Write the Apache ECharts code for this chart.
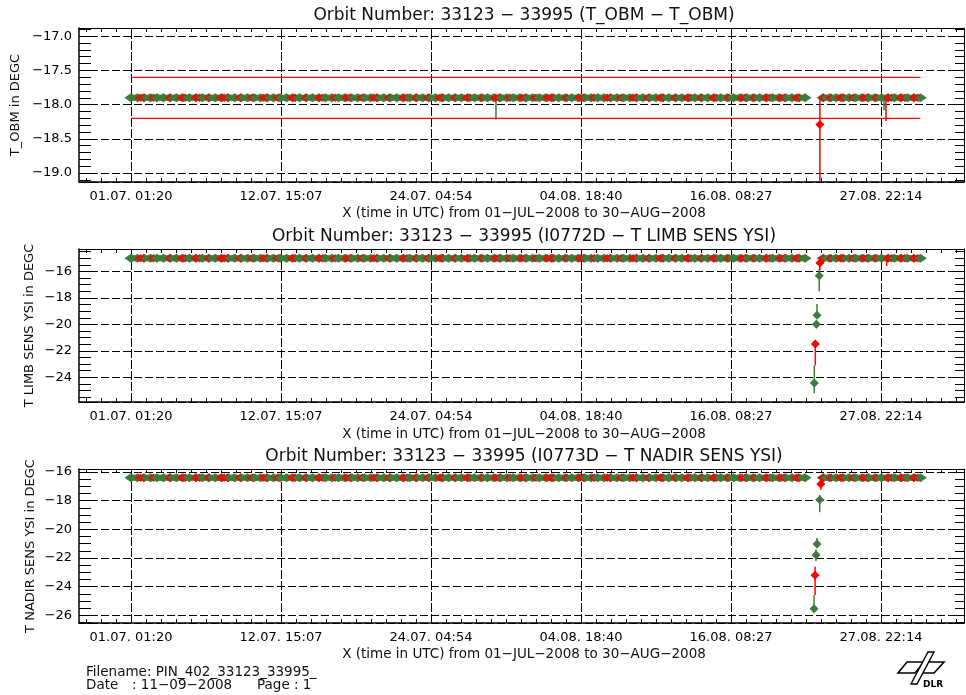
<!DOCTYPE html>
<html><head><meta charset="utf-8">
<script src="https://cdn.jsdelivr.net/npm/echarts@6/dist/echarts.min.js"></script>
<style>html,body{margin:0;padding:0;background:#fff}#c{width:966px;height:695px}</style>
</head><body><div id="c"></div>
<script>
// ---------------- data (time = days since 01.07.2008 01:20 UTC) ----------------
const tickLabels = ["01.07. 01:20","12.07. 15:07","24.07. 04:54","04.08. 18:40","16.08. 08:27","27.08. 22:14"];
const tickTimes = [0, 11.5743, 23.1486, 34.7229, 46.2972, 57.8715];

// orbit samples; 52.7 marks the data gap
const bandTimes = [0,0.5,1,1.5,2,2.5,3,3.5,4,4.5,5,5.5,6,6.5,7,
7.5,8,8.5,9,9.5,10,10.5,11,11.5,12,12.5,13,13.5,14,14.5,
15,15.5,16,16.5,17,17.5,18,18.5,19,19.5,20,20.5,21,21.5,22,
22.5,23,23.5,24,24.5,25,25.5,26,26.5,27,27.5,28,28.5,29,29.5,
30,30.5,31,31.5,32,32.5,33,33.5,34,34.5,35,35.5,36,36.5,37,
37.5,38,38.5,39,39.5,40,40.5,41,41.5,42,42.5,43,43.5,44,44.5,
45,45.5,46,46.5,47,47.5,48,48.5,49,49.5,50,50.5,51,51.5,52,
52.7,
53.4,53.9,54.4,54.9,55.4,55.9,56.4,56.9,57.4,57.9,58.4,58.9,59.4,59.9,60.4,60.9];

const obmBand = [
-17.9,-17.9,-17.9,-17.9,-17.9,-17.9,-17.9,-17.9,-17.9,-17.9,-17.9,-17.9,-17.9,-17.9,-17.9,
-17.9,-17.9,-17.9,-17.9,-17.9,-17.9,-17.9,-17.9,-17.9,-17.9,-17.9,-17.9,-17.9,-17.9,-17.9,
-17.9,-17.9,-17.9,-17.9,-17.9,-17.9,-17.9,-17.9,-17.9,-17.9,-17.9,-17.9,-17.9,-17.9,-17.9,
-17.9,-17.9,-17.9,-17.9,-17.9,-17.9,-17.9,-17.9,-17.9,-17.9,-17.9,-17.9,-17.9,-17.9,-17.9,
-17.9,-17.9,-17.9,-17.9,-17.9,-17.9,-17.9,-17.9,-17.9,-17.9,-17.9,-17.9,-17.9,-17.9,-17.9,
-17.9,-17.9,-17.9,-17.9,-17.9,-17.9,-17.9,-17.9,-17.9,-17.9,-17.9,-17.9,-17.9,-17.9,-17.9,
-17.9,-17.9,-17.9,-17.9,-17.9,-17.9,-17.9,-17.9,-17.9,-17.9,-17.9,-17.9,-17.9,-17.9,-17.9,
'-',
-17.9,-17.9,-17.9,-17.9,-17.9,-17.9,-17.9,-17.9,-17.9,-17.9,-17.9,-17.9,-17.9,-17.9,-17.9,-17.9];

const limbBand = [
-15.0,-15.0,-15.0,-15.0,-15.0,-15.0,-15.0,-15.0,-15.0,-15.0,-15.0,-15.0,-15.0,-15.0,-15.0,
-15.0,-15.0,-15.0,-15.0,-15.0,-15.0,-15.0,-15.0,-15.0,-15.0,-15.0,-15.0,-15.0,-15.0,-15.0,
-15.0,-15.0,-15.0,-15.0,-15.0,-15.0,-15.0,-15.0,-15.0,-15.0,-15.0,-15.0,-15.0,-15.0,-15.0,
-15.0,-15.0,-15.0,-15.0,-15.0,-15.0,-15.0,-15.0,-15.0,-15.0,-15.0,-15.0,-15.0,-15.0,-15.0,
-15.0,-15.0,-15.0,-15.0,-15.0,-15.0,-15.0,-15.0,-15.0,-15.0,-15.0,-15.0,-15.0,-15.0,-15.0,
-15.0,-15.0,-15.0,-15.0,-15.0,-15.0,-15.0,-15.0,-15.0,-15.0,-15.0,-15.0,-15.0,-15.0,-15.0,
-15.0,-15.0,-15.0,-15.0,-15.0,-15.0,-15.0,-15.0,-15.0,-15.0,-15.0,-15.0,-15.0,-15.0,-15.0,
'-',
-15.0,-15.0,-15.0,-15.0,-15.0,-15.0,-15.0,-15.0,-15.0,-15.0,-15.0,-15.0,-15.0,-15.0,-15.0,-15.0];

const nadirBand = [
-16.4,-16.4,-16.4,-16.4,-16.4,-16.4,-16.4,-16.4,-16.4,-16.4,-16.4,-16.4,-16.4,-16.4,-16.4,
-16.4,-16.4,-16.4,-16.4,-16.4,-16.4,-16.4,-16.4,-16.4,-16.4,-16.4,-16.4,-16.4,-16.4,-16.4,
-16.4,-16.4,-16.4,-16.4,-16.4,-16.4,-16.4,-16.4,-16.4,-16.4,-16.4,-16.4,-16.4,-16.4,-16.4,
-16.4,-16.4,-16.4,-16.4,-16.4,-16.4,-16.4,-16.4,-16.4,-16.4,-16.4,-16.4,-16.4,-16.4,-16.4,
-16.4,-16.4,-16.4,-16.4,-16.4,-16.4,-16.4,-16.4,-16.4,-16.4,-16.4,-16.4,-16.4,-16.4,-16.4,
-16.4,-16.4,-16.4,-16.4,-16.4,-16.4,-16.4,-16.4,-16.4,-16.4,-16.4,-16.4,-16.4,-16.4,-16.4,
-16.4,-16.4,-16.4,-16.4,-16.4,-16.4,-16.4,-16.4,-16.4,-16.4,-16.4,-16.4,-16.4,-16.4,-16.4,
'-',
-16.4,-16.4,-16.4,-16.4,-16.4,-16.4,-16.4,-16.4,-16.4,-16.4,-16.4,-16.4,-16.4,-16.4,-16.4,-16.4];

const flagTimes = [0.6,0.85,1.6,2.9,3.8,4.05,4.9,5.15,5.9,6.8,
7.05,7.3,8.3,9.2,10.1,10.35,11.2,12.3,12.55,13.4,
14.4,14.65,15.6,16.5,16.75,17.7,18.6,18.85,19.8,20.9,
21.15,21.9,22.8,23.7,23.95,24.9,25.8,26.05,27.0,28.0,
28.25,29.1,30.0,30.25,31.1,32.0,32.25,32.5,33.5,34.5,
34.75,35.6,36.6,36.85,37.7,38.6,38.85,39.8,40.7,40.95,
41.9,42.8,43.05,43.9,44.8,45.05,46.0,47.0,47.25,48.0,
48.9,49.15,50.0,50.25,51.2,51.45,53.3,53.9,54.6,54.85,
55.6,56.4,56.65,57.4,58.3,58.55,59.3,59.55,60.3,60.55];

const obmFlag = [
-17.9,-17.9,-17.9,-17.9,-17.9,-17.9,-17.9,-17.9,-17.9,-17.9,
-17.9,-17.9,-17.9,-17.9,-17.9,-17.9,-17.9,-17.9,-17.9,-17.9,
-17.9,-17.9,-17.9,-17.9,-17.9,-17.9,-17.9,-17.9,-17.9,-17.9,
-17.9,-17.9,-17.9,-17.9,-17.9,-17.9,-17.9,-17.9,-17.9,-17.9,
-17.9,-17.9,-17.9,-17.9,-17.9,-17.9,-17.9,-17.9,-17.9,-17.9,
-17.9,-17.9,-17.9,-17.9,-17.9,-17.9,-17.9,-17.9,-17.9,-17.9,
-17.9,-17.9,-17.9,-17.9,-17.9,-17.9,-17.9,-17.9,-17.9,-17.9,
-17.9,-17.9,-17.9,-17.9,-17.9,-17.9,-17.9,-17.9,-17.9,-17.9,
-17.9,-17.9,-17.9,-17.9,-17.9,-17.9,-17.9,-17.9,-17.9,-17.9];

const limbFlag = [
-15.0,-15.0,-15.0,-15.0,-15.0,-15.0,-15.0,-15.0,-15.0,-15.0,
-15.0,-15.0,-15.0,-15.0,-15.0,-15.0,-15.0,-15.0,-15.0,-15.0,
-15.0,-15.0,-15.0,-15.0,-15.0,-15.0,-15.0,-15.0,-15.0,-15.0,
-15.0,-15.0,-15.0,-15.0,-15.0,-15.0,-15.0,-15.0,-15.0,-15.0,
-15.0,-15.0,-15.0,-15.0,-15.0,-15.0,-15.0,-15.0,-15.0,-15.0,
-15.0,-15.0,-15.0,-15.0,-15.0,-15.0,-15.0,-15.0,-15.0,-15.0,
-15.0,-15.0,-15.0,-15.0,-15.0,-15.0,-15.0,-15.0,-15.0,-15.0,
-15.0,-15.0,-15.0,-15.0,-15.0,-15.0,-15.0,-15.0,-15.0,-15.0,
-15.0,-15.0,-15.0,-15.0,-15.0,-15.0,-15.0,-15.0,-15.0,-15.0];

const nadirFlag = [
-16.4,-16.4,-16.4,-16.4,-16.4,-16.4,-16.4,-16.4,-16.4,-16.4,
-16.4,-16.4,-16.4,-16.4,-16.4,-16.4,-16.4,-16.4,-16.4,-16.4,
-16.4,-16.4,-16.4,-16.4,-16.4,-16.4,-16.4,-16.4,-16.4,-16.4,
-16.4,-16.4,-16.4,-16.4,-16.4,-16.4,-16.4,-16.4,-16.4,-16.4,
-16.4,-16.4,-16.4,-16.4,-16.4,-16.4,-16.4,-16.4,-16.4,-16.4,
-16.4,-16.4,-16.4,-16.4,-16.4,-16.4,-16.4,-16.4,-16.4,-16.4,
-16.4,-16.4,-16.4,-16.4,-16.4,-16.4,-16.4,-16.4,-16.4,-16.4,
-16.4,-16.4,-16.4,-16.4,-16.4,-16.4,-16.4,-16.4,-16.4,-16.4,
-16.4,-16.4,-16.4,-16.4,-16.4,-16.4,-16.4,-16.4,-16.4,-16.4];

// limit lines (T_OBM)
const obmLimits = [-17.6, -18.2];
const limitTimes = [0, 60.9];

// isolated points [time, value] and min/max bars [time, high, low]
const obmGreenDip = [];
const obmRedDip = [[53.15, -18.29]];
const obmGreenBars = [[28.16, -17.9, -18.22], [58.1, -17.9, -18.08]];
const obmRedBars = [[53.15, -17.9, -19.6], [58.25, -17.9, -18.24]];

const limbGreenDip = [[53.1, -16.33], [52.93, -19.32], [52.88, -20.0], [52.72, -24.42]];
const limbRedDip = [[53.15, -15.37], [52.8, -21.48]];
const limbGreenBars = [[53.1, -15.8, -17.5], [52.93, -18.46, -19.6], [52.88, -19.7, -20.3], [52.72, -23.1, -25.2]];
const limbRedBars = [[53.15, -15.0, -15.9], [52.8, -21.2, -23.1], [58.3, -15.0, -15.6]];

const nadirGreenDip = [[53.14, -17.93], [52.93, -21.02], [52.85, -21.78], [52.70, -25.53]];
const nadirRedDip = [[53.22, -16.84], [52.78, -23.2]];
const nadirGreenBars = [[53.14, -17.6, -18.8], [52.93, -20.6, -21.3], [52.85, -21.4, -22.2], [52.70, -24.6, -25.8]];
const nadirRedBars = [[53.22, -16.4, -17.23], [52.78, -22.6, -24.6]];

// ---------------- chart ----------------
const FONT = 'DejaVu Sans';
const GREEN = '#3c7c3c', RED = '#ff0000', INK = '#000';
const xMin = -4.012, xMax = 64.27;
const tickStep = tickTimes[1] - tickTimes[0];
const minorTicks = [];
for (let k = Math.ceil(xMin / (tickStep / 10)); k * tickStep / 10 <= xMax; k++) {
  minorTicks.push(Math.round(k * tickStep / 10 * 1e4) / 1e4);
}
const zip = (ts, vs) => ts.slice(0, Math.min(ts.length, vs.length)).map((t, i) => [t, vs[i]]);
const minus = s => String(s).replace('-', '\u2212');
const xTitle = 'X (time in UTC) from 01\u2212JUL\u22122008 to 30\u2212AUG\u22122008';

const panels = [
  {title: 'Orbit Number: 33123 \u2212 33995 (T_OBM \u2212 T_OBM)', yName: 'T_OBM in DEGC',
   yMin: -19.13, yMax: -16.88, dec: 1, minorSplit: 5, top: 28, height: 154, titleTop: 7, xTitleTop: 206, nameGap: 57,
   band: obmBand, flag: obmFlag, gDip: obmGreenDip, rDip: obmRedDip, gBars: obmGreenBars, rBars: obmRedBars, limits: obmLimits},
  {title: 'Orbit Number: 33123 \u2212 33995 (I0772D \u2212 T LIMB SENS YSI)', yName: 'T LIMB SENS YSI in DEGC',
   yMin: -25.86, yMax: -14.31, dec: 0, minorSplit: 4, top: 249, height: 153, titleTop: 228, xTitleTop: 427, nameGap: 43,
   band: limbBand, flag: limbFlag, gDip: limbGreenDip, rDip: limbRedDip, gBars: limbGreenBars, rBars: limbRedBars, limits: []},
  {title: 'Orbit Number: 33123 \u2212 33995 (I0773D \u2212 T NADIR SENS YSI)', yName: 'T NADIR SENS YSI in DEGC',
   yMin: -26.53, yMax: -15.79, dec: 0, minorSplit: 4, top: 469, height: 154, titleTop: 448, xTitleTop: 647, nameGap: 42,
   band: nadirBand, flag: nadirFlag, gDip: nadirGreenDip, rDip: nadirRedDip, gBars: nadirGreenBars, rBars: nadirRedBars, limits: []}
];

function barRenderer(color, yMin) {
  return function (params, api) {
    const x = api.value(0);
    const a = api.coord([x, api.value(1)]);
    const b = api.coord([x, Math.max(api.value(2), yMin)]);
    return {type: 'line', shape: {x1: a[0], y1: a[1], x2: b[0], y2: b[1]}, style: {stroke: color, lineWidth: 1.5}};
  };
}

const grid = [], xAxis = [], yAxis = [], series = [], title = [];
panels.forEach((p, i) => {
  grid.push({left: 79, right: 2, top: p.top, height: p.height, containLabel: false, outerBoundsMode: 'none'});
  title.push({text: p.title, left: 524, top: p.titleTop, textAlign: 'center', padding: 0,
    textStyle: {fontFamily: FONT, fontSize: 17, fontWeight: 'normal', color: '#111'}});
  title.push({text: xTitle, left: 524, top: p.xTitleTop, textAlign: 'center', padding: 0,
    textStyle: {fontFamily: FONT, fontSize: 13.5, fontWeight: 'normal', color: '#111'}});
  xAxis.push({type: 'value', gridIndex: i, position: 'bottom', min: xMin, max: xMax,
    axisLine: {show: true, onZero: false, lineStyle: {color: INK, width: 1.5}},
    axisTick: {show: true, inside: true, length: 4, customValues: minorTicks, lineStyle: {color: INK}},
    axisLabel: {show: true, customValues: tickTimes, margin: 8, color: INK, fontFamily: FONT, fontSize: 13,
      formatter: v => tickLabels[Math.round(v / tickStep)] || ''},
    splitLine: {show: false}});
  xAxis.push({type: 'value', gridIndex: i, position: 'top', min: xMin, max: xMax,
    axisLine: {show: true, onZero: false, lineStyle: {color: INK, width: 1}},
    axisTick: {show: true, inside: true, length: 4, customValues: minorTicks, lineStyle: {color: INK}},
    axisLabel: {show: false}, splitLine: {show: false}});
  yAxis.push({type: 'value', gridIndex: i, position: 'left', min: p.yMin, max: p.yMax, splitNumber: 5,
    name: p.yName, nameLocation: 'middle', nameGap: p.nameGap, nameMoveOverlap: false,
    nameTextStyle: {fontFamily: FONT, fontSize: 13, color: '#111'},
    axisLine: {show: true, onZero: false, lineStyle: {color: INK, width: 1.5}},
    axisTick: {show: true, inside: true, length: 12, lineStyle: {color: INK}},
    minorTick: {show: true, splitNumber: p.minorSplit, length: 12, lineStyle: {color: INK, width: 1}},
    axisLabel: {show: true, margin: 7, color: INK, fontFamily: FONT, fontSize: 13, showMinLabel: false, showMaxLabel: false,
      formatter: v => minus(v.toFixed(p.dec))},
    splitLine: {show: true, lineStyle: {color: INK, width: 1, type: [8, 3]}}});
  yAxis.push({type: 'value', gridIndex: i, position: 'right', min: p.yMin, max: p.yMax, splitNumber: 5,
    axisLine: {show: true, onZero: false, lineStyle: {color: INK, width: 1}},
    axisTick: {show: true, inside: true, length: 9, lineStyle: {color: INK}},
    minorTick: {show: true, splitNumber: p.minorSplit, length: 9, lineStyle: {color: INK, width: 1}},
    axisLabel: {show: false}, splitLine: {show: false}});

  const xi = 2 * i, yi = 2 * i;
  series.push({type: 'scatter', xAxisIndex: xi, yAxisIndex: yi, data: [], silent: true,
    markLine: {silent: true, z: 1, symbol: ['none', 'none'], label: {show: false},
      lineStyle: {color: INK, width: 1, type: [9, 2]}, emphasis: {disabled: true},
      data: tickTimes.map(t => ({xAxis: t}))}});
  p.limits.forEach(v => {
    series.push({type: 'line', xAxisIndex: xi, yAxisIndex: yi, showSymbol: false, silent: true,
      lineStyle: {color: RED, width: 1.3}, itemStyle: {color: RED},
      data: limitTimes.map(t => [t, v])});
  });
  // main orbit series: diamonds joined by a line (gap breaks it)
  series.push({type: 'line', xAxisIndex: xi, yAxisIndex: yi, z: 2, symbol: 'diamond', symbolSize: [13, 9],
    showSymbol: true, showAllSymbol: true, connectNulls: false, silent: true,
    lineStyle: {color: GREEN, width: 6}, itemStyle: {color: GREEN, opacity: 1}, data: zip(bandTimes, p.band)});
  series.push({type: 'scatter', xAxisIndex: xi, yAxisIndex: yi, z: 4, silent: true, symbol: 'path://M10,0L0,6L10,12', symbolSize: [5, 7],
    itemStyle: {color: 'transparent', borderColor: RED, borderWidth: 1.4, opacity: 1}, data: zip(flagTimes, p.flag)});
  series.push({type: 'custom', xAxisIndex: xi, yAxisIndex: yi, z: 3, renderItem: barRenderer(GREEN, p.yMin),
    encode: {x: 0, y: [1, 2]}, data: p.gBars});
  series.push({type: 'custom', xAxisIndex: xi, yAxisIndex: yi, z: 3, renderItem: barRenderer(RED, p.yMin),
    encode: {x: 0, y: [1, 2]}, data: p.rBars});
  series.push({type: 'scatter', xAxisIndex: xi, yAxisIndex: yi, z: 5, symbol: 'diamond', symbolSize: [9, 9],
    itemStyle: {color: GREEN, opacity: 1}, data: p.gDip});
  series.push({type: 'scatter', xAxisIndex: xi, yAxisIndex: yi, z: 5, symbol: 'diamond', symbolSize: [9, 9],
    itemStyle: {color: RED, opacity: 1}, data: p.rDip});
});

const graphic = [
  {type: 'text', silent: true, style: {text: 'Filename: PIN_402_33123_33995_', x: 86, y: 672, fill: '#111',
    font: '13.5px "DejaVu Sans"', textVerticalAlign: 'middle'}},
  {type: 'text', silent: true, style: {text: 'Date', x: 86, y: 685, fill: '#111', font: '13.5px "DejaVu Sans"', textVerticalAlign: 'middle'}},
  {type: 'text', silent: true, style: {text: ': 11\u221209\u22122008', x: 132, y: 685, fill: '#111', font: '13.5px "DejaVu Sans"', textVerticalAlign: 'middle'}},
  {type: 'text', silent: true, style: {text: 'Page : 1', x: 257, y: 685, fill: '#111', font: '13.5px "DejaVu Sans"', textVerticalAlign: 'middle'}},
  {type: 'polygon', silent: true, shape: {points: [[898, 673], [915, 673], [924, 662], [907, 662]]}, style: {fill: 'none', stroke: '#000', lineWidth: 1.6}},
  {type: 'polygon', silent: true, shape: {points: [[919, 673], [934, 673], [944, 662], [928, 662]]}, style: {fill: 'none', stroke: '#000', lineWidth: 1.6}},
  {type: 'polygon', silent: true, shape: {points: [[928, 652], [934, 652], [917, 684], [911, 684]]}, style: {fill: '#fff', stroke: '#000', lineWidth: 1.4}},
  {type: 'text', silent: true, style: {text: 'DLR', x: 923, y: 685, fill: '#000', font: 'bold 9px "DejaVu Sans"', textVerticalAlign: 'middle'}}
];

const chart = echarts.init(document.getElementById('c'), null, {renderer: 'canvas'});
chart.setOption({
  animation: false,
  backgroundColor: '#fff',
  textStyle: {fontFamily: FONT},
  title, grid, xAxis, yAxis, series, graphic
});
</script>
</body></html>
